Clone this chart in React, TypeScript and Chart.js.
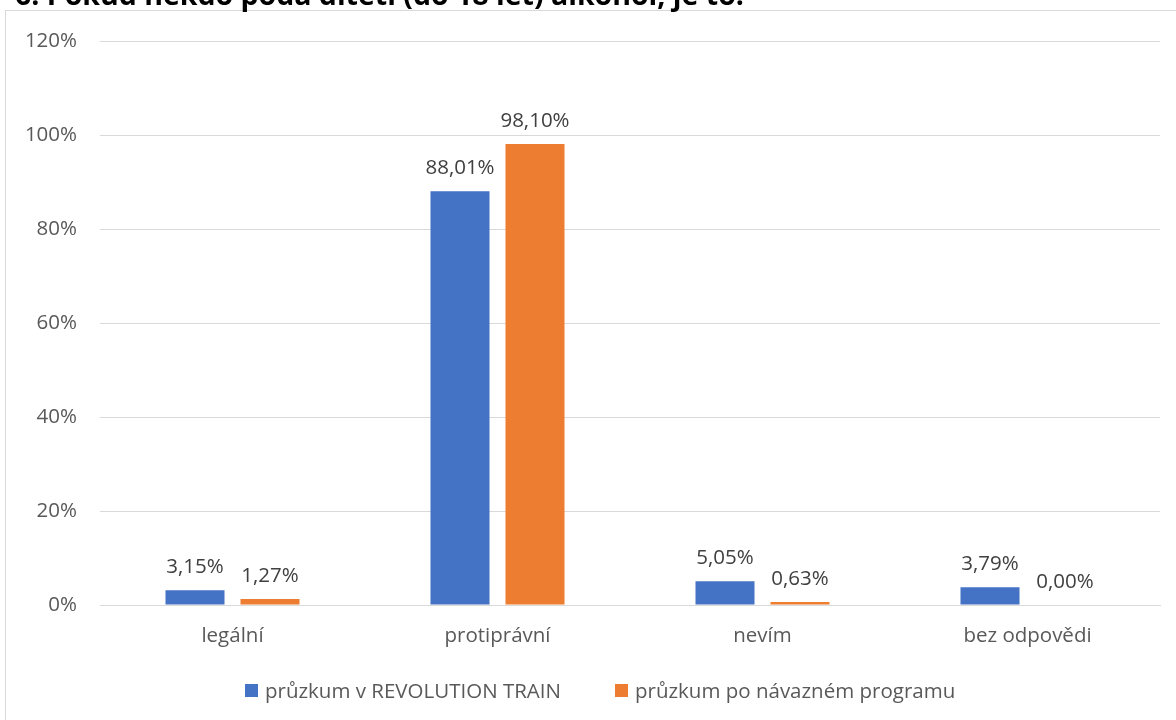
import React, { useEffect, useRef } from "react";
import { Chart, registerables } from "chart.js";

Chart.register(...registerables);

const title = "6. Pokud někdo podá dítěti (do 18 let) alkohol, je to:";
const categories = ["legální", "protiprávní", "nevím", "bez odpovědi"];
const seriesNames = ["průzkum v REVOLUTION TRAIN", "průzkum po návazném programu"];
const seriesRevolution = [3.15, 88.01, 5.05, 3.79];
const seriesFollowUp = [1.27, 98.1, 0.63, 0.0];
const colors = ["#4472C4", "#ED7D31"];
const FONT = "'Open Sans', sans-serif";
const SIZE = 20.5;

const fmt = (v: number) => v.toFixed(2).replace(".", ",") + "%";

const dataLabelPlugin = {
  id: "dataLabels",
  afterDatasetsDraw(chart: any) {
    const ctx = chart.ctx;
    ctx.save();
    ctx.font = `${SIZE}px ${FONT}`;
    ctx.fillStyle = "#404040";
    ctx.textAlign = "center";
    ctx.textBaseline = "alphabetic";
    chart.data.datasets.forEach((ds: any, i: number) => {
      const meta = chart.getDatasetMeta(i);
      meta.data.forEach((el: any, j: number) => {
        ctx.fillText(fmt(ds.data[j]), el.x, el.y - 17);
      });
    });
    ctx.restore();
  },
};

export default function App() {
  const ref = useRef<HTMLCanvasElement>(null);
  useEffect(() => {
    if (!ref.current) return;
    const chart = new Chart(ref.current, {
      type: "bar",
      data: {
        labels: categories,
        datasets: [
          {
            label: seriesNames[0],
            data: seriesRevolution,
            backgroundColor: colors[0],
            categoryPercentage: 0.566,
            barPercentage: 0.787,
          },
          {
            label: seriesNames[1],
            data: seriesFollowUp,
            backgroundColor: colors[1],
            categoryPercentage: 0.566,
            barPercentage: 0.787,
          },
        ],
      },
      options: {
        animation: false,
        responsive: false,
        maintainAspectRatio: false,
        layout: { padding: { top: 41, right: 16, bottom: 62, left: 0 } },
        scales: {
          x: {
            afterFit: (s: any) => {
              s.height = 53;
            },
            grid: { display: false, drawTicks: false },
            border: { display: true, color: "#D9D9D9", width: 1 },
            ticks: { color: "#595959", font: { family: FONT, size: SIZE }, padding: 19 },
          },
          y: {
            min: 0,
            max: 120,
            afterFit: (s: any) => {
              s.width = 100;
            },
            grid: { color: "#D9D9D9", drawTicks: false },
            border: { display: false },
            ticks: {
              stepSize: 20,
              padding: 23,
              color: "#595959",
              font: { family: FONT, size: SIZE },
              callback: (v: any) => v + "%",
            },
          },
        },
        plugins: {
          legend: { display: false },
          tooltip: { enabled: false },
        },
      },
      plugins: [dataLabelPlugin],
    });
    return () => chart.destroy();
  }, []);

  return (
    <div style={{ position: "absolute", left: 0, top: 0, width: 1176, height: 720, overflow: "hidden", background: "#fff" }}>
      <div style={{ position: "absolute", left: 5, top: 10, width: 1200, height: 800, border: "1px solid #D9D9D9" }} />
      <canvas ref={ref} width={1176} height={720} style={{ position: "absolute", left: 0, top: 0 }} />
      <div
        style={{
          position: "absolute",
          left: 245,
          top: 676,
          display: "flex",
          alignItems: "center",
          gap: 54,
          fontFamily: FONT,
          fontSize: SIZE,
          color: "#595959",
          whiteSpace: "nowrap",
          lineHeight: "28px",
        }}
      >
        {seriesNames.map((name, i) => (
          <div key={name} style={{ display: "flex", alignItems: "center" }}>
            <span style={{ display: "inline-block", width: 13, height: 13, background: colors[i], marginRight: 7 }} />
            <span>{name}</span>
          </div>
        ))}
      </div>
      <div
        style={{
          position: "absolute",
          left: 15,
          top: -25,
          fontFamily: FONT,
          fontWeight: 700,
          fontSize: 28.5,
          color: "#000",
          whiteSpace: "nowrap",
          lineHeight: "39px",
        }}
      >
        {title}
      </div>
    </div>
  );
}
